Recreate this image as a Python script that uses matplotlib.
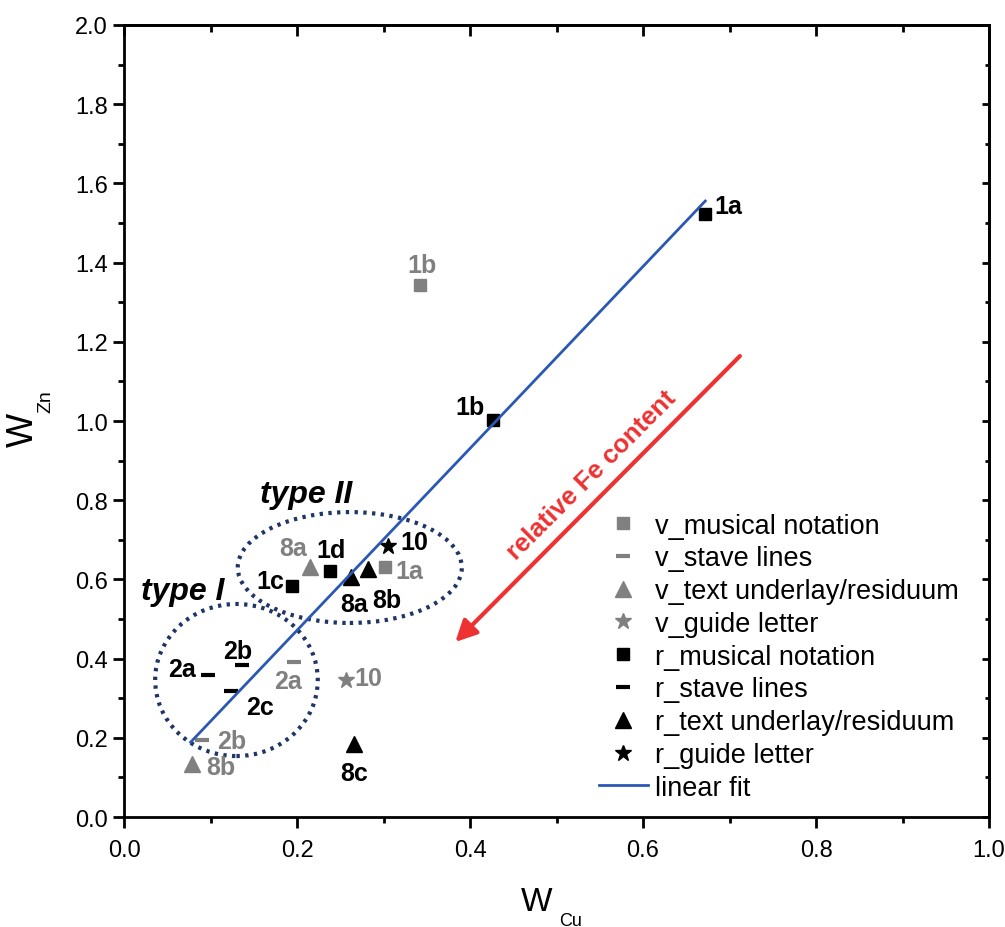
import matplotlib
matplotlib.use("Agg")
import matplotlib.pyplot as plt
from matplotlib.patches import Ellipse
from matplotlib.ticker import MultipleLocator, FormatStrFormatter

plt.rcParams['font.family'] = ['Liberation Sans', 'DejaVu Sans']

# ---------------- data ----------------
v_mus_x = [0.342, 0.302]
v_mus_y = [1.343, 0.631]
v_mus_lab = ['1b', '1a']

v_stave_x = [0.197, 0.090]
v_stave_y = [0.391, 0.194]
v_stave_lab = ['2a', '2b']

v_text_x = [0.215, 0.079]
v_text_y = [0.631, 0.134]
v_text_lab = ['8a', '8b']

v_guide_x = [0.257]
v_guide_y = [0.346]
v_guide_lab = ['10']

r_mus_x = [0.672, 0.427, 0.194, 0.238]
r_mus_y = [1.523, 1.003, 0.583, 0.621]
r_mus_lab = ['1a', '1b', '1c', '1d']

r_stave_x = [0.097, 0.136, 0.124]
r_stave_y = [0.359, 0.384, 0.318]
r_stave_lab = ['2a', '2b', '2c']

r_text_x = [0.262, 0.282, 0.266]
r_text_y = [0.606, 0.626, 0.184]
r_text_lab = ['8a', '8b', '8c']

r_guide_x = [0.305]
r_guide_y = [0.684]
r_guide_lab = ['10']

fit_slope = 2.297
fit_intercept = 0.012
fit_x_range = [0.077, 0.672]

# ---------------- styling ----------------
GRAY = '#808080'
BLACK = '#000000'
BLUE = '#2b58b2'
NAVY = '#1f3566'
RED = '#ee3131'

# label offsets in pixels (dx, dy, ha)
off_v_mus = [(2, 20, 'center'), (24, -4, 'center')]
off_v_stave = [(-6, -19, 'center'), (30, -1, 'center')]
off_v_text = [(-17, 19, 'center'), (28, -3, 'center')]
off_v_guide = [(22, 2, 'center')]
off_r_mus = [(9, 8, 'left'), (-23, 13, 'center'), (-22, 5, 'center'), (1, 21, 'center')]
off_r_stave = [(-26, 6, 'center'), (-4, 14, 'center'), (29, -16, 'center')]
off_r_text = [(3, -27, 'center'), (19, -31, 'center'), (0, -29, 'center')]
off_r_guide = [(26, 4, 'center')]

fig = plt.figure(figsize=(10.05, 9.28), dpi=100)
ax = fig.add_axes([0.1234, 0.1185, 0.8607, 0.8535])

ms_sq = 9
ms_tri = 11
ms_star = 12

ax.plot(v_mus_x, v_mus_y, 's', color=GRAY, ms=ms_sq, ls='none', label='v_musical notation')
ax.plot(v_stave_x, v_stave_y, '_', color=GRAY, ms=10, mew=3, ls='none', label='v_stave lines')
ax.plot(v_text_x, v_text_y, '^', color=GRAY, ms=ms_tri, ls='none', label='v_text underlay/residuum')
ax.plot(v_guide_x, v_guide_y, '*', color=GRAY, ms=ms_star, ls='none', label='v_guide letter')
ax.plot(r_mus_x, r_mus_y, 's', color=BLACK, ms=ms_sq, ls='none', label='r_musical notation')
ax.plot(r_stave_x, r_stave_y, '_', color=BLACK, ms=10, mew=3, ls='none', label='r_stave lines')
ax.plot(r_text_x, r_text_y, '^', color=BLACK, ms=ms_tri, ls='none', label='r_text underlay/residuum')
ax.plot(r_guide_x, r_guide_y, '*', color=BLACK, ms=ms_star, ls='none', label='r_guide letter')

fx = fit_x_range
fy = [fit_slope * v + fit_intercept for v in fx]
ax.plot(fx, fy, '-', color=BLUE, lw=2, label='linear fit')

def put_labels(xs, ys, labs, offs, color):
    for x, y, t, (dx, dy, ha) in zip(xs, ys, labs, offs):
        ax.annotate(t, (x, y), xytext=(dx, dy), textcoords='offset pixels',
                    ha=ha, va='center', fontsize=18, fontweight='bold', color=color)

put_labels(v_mus_x, v_mus_y, v_mus_lab, off_v_mus, GRAY)
put_labels(v_stave_x, v_stave_y, v_stave_lab, off_v_stave, GRAY)
put_labels(v_text_x, v_text_y, v_text_lab, off_v_text, GRAY)
put_labels(v_guide_x, v_guide_y, v_guide_lab, off_v_guide, GRAY)
put_labels(r_mus_x, r_mus_y, r_mus_lab, off_r_mus, BLACK)
put_labels(r_stave_x, r_stave_y, r_stave_lab, off_r_stave, BLACK)
put_labels(r_text_x, r_text_y, r_text_lab, off_r_text, BLACK)
put_labels(r_guide_x, r_guide_y, r_guide_lab, off_r_guide, BLACK)

# group ellipses
ax.add_patch(Ellipse((0.261, 0.630), 0.259, 0.280, fill=False, edgecolor=NAVY,
                     lw=3, ls=(0, (0.8, 1.3))))
ax.add_patch(Ellipse((0.130, 0.346), 0.188, 0.384, fill=False, edgecolor=NAVY,
                     lw=3, ls=(0, (0.8, 1.3))))
ax.text(0.210, 0.816, 'type II', fontsize=23, fontweight='bold', style='italic',
        ha='center', va='center')
ax.text(0.068, 0.571, 'type I', fontsize=23, fontweight='bold', style='italic',
        ha='center', va='center')

# red arrow
ax.annotate('', xy=(0.383, 0.442), xytext=(0.712, 1.164),
            arrowprops=dict(arrowstyle='-|>', color=RED, lw=3, mutation_scale=32,
                            shrinkA=0, shrinkB=0))
ax.text(0.540, 0.866, 'relative Fe content', color=RED, fontsize=18.5, fontweight='bold',
        rotation=45, rotation_mode='anchor', ha='center', va='center')

ax.set_xlim(0, 1.0)
ax.set_ylim(0, 2.0)
ax.xaxis.set_major_locator(MultipleLocator(0.2))
ax.xaxis.set_minor_locator(MultipleLocator(0.1))
ax.yaxis.set_major_locator(MultipleLocator(0.2))
ax.yaxis.set_minor_locator(MultipleLocator(0.1))
ax.xaxis.set_major_formatter(FormatStrFormatter('%.1f'))
ax.yaxis.set_major_formatter(FormatStrFormatter('%.1f'))

for s in ax.spines.values():
    s.set_linewidth(2)
ax.tick_params(which='major', direction='out', length=8, width=2, labelsize=17,
               top=False, right=False)
ax.tick_params(which='minor', direction='out', length=4.5, width=2, top=False, right=False)
ax.tick_params(axis='x', pad=8)

# inward ticks on top and right
ax_t = ax.secondary_xaxis('top')
ax_t.xaxis.set_major_locator(MultipleLocator(0.2))
ax_t.xaxis.set_minor_locator(MultipleLocator(0.1))
ax_t.tick_params(which='major', direction='in', length=8, width=2, labeltop=False)
ax_t.tick_params(which='minor', direction='in', length=5, width=2)
ax_t.spines['top'].set_linewidth(2)
ax_r = ax.secondary_yaxis('right')
ax_r.yaxis.set_major_locator(MultipleLocator(0.2))
ax_r.yaxis.set_minor_locator(MultipleLocator(0.1))
ax_r.tick_params(which='major', direction='in', length=5, width=2, labelright=False)
ax_r.tick_params(which='minor', direction='in', length=3, width=2)
ax_r.spines['right'].set_linewidth(2)

# axis titles: W with a small, low subscript
fig.text(537 / 1005, 1 - 911 / 928, 'W', fontsize=24, ha='center', va='baseline')
fig.text(559 / 1005, 1 - 926 / 928, 'Cu', fontsize=13, ha='left', va='baseline')
fig.text(33 / 1005, 1 - 430 / 928, 'W', fontsize=26, rotation=90, rotation_mode='anchor',
         ha='center', va='baseline')
fig.text(50 / 1005, 1 - 413 / 928, 'Zn', fontsize=14, rotation=90, rotation_mode='anchor',
         ha='left', va='baseline')

leg = ax.legend(loc='upper left', bbox_to_anchor=(0.537, 0.398), frameon=False,
                fontsize=19.5, handlelength=1.78, handletextpad=0.26, labelspacing=0.25,
                borderaxespad=0)

fig.savefig('out.png', dpi=100)
